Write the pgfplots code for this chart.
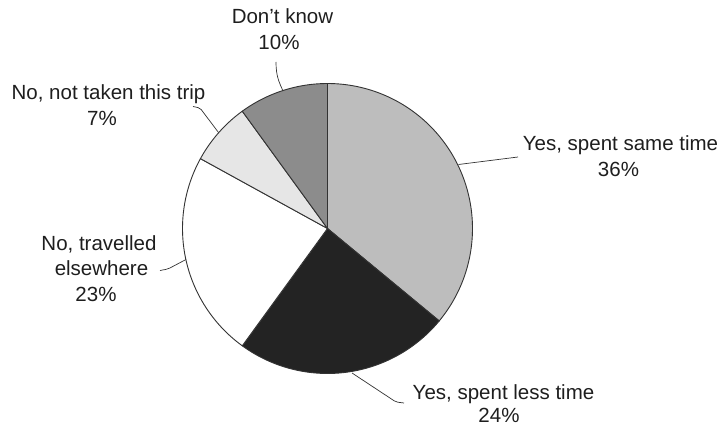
\documentclass[border=0pt]{standalone}
\usepackage{pgfplots}
\pgfplotsset{compat=1.18}
\usepackage{fontspec}
\setmainfont{Liberation Sans}
\definecolor{cSame}{HTML}{BDBDBD}
\definecolor{cLess}{HTML}{232323}
\definecolor{cElse}{HTML}{FFFFFF}
\definecolor{cNot}{HTML}{E6E6E6}
\definecolor{cDK}{HTML}{8C8C8C}
\definecolor{cEdge}{HTML}{333333}
\definecolor{cText}{HTML}{1E1E1E}
% shares in percent, clockwise from 12 o'clock
\def\pSame{36}\def\pLess{24}\def\pElse{23}\def\pNot{7}\def\pDK{10}
\pgfmathsetmacro\aA{90}
\pgfmathsetmacro\aB{\aA-3.6*\pSame}
\pgfmathsetmacro\aC{\aB-3.6*\pLess}
\pgfmathsetmacro\aD{\aC-3.6*\pElse}
\pgfmathsetmacro\aE{\aD-3.6*\pNot}
\pgfmathsetmacro\aF{\aE-3.6*\pDK}
\begin{document}
\begin{tikzpicture}
\useasboundingbox (0pt,0pt) rectangle (727pt,426pt);
\begin{axis}[at={(327.5pt,197.5pt)}, anchor=origin,
  width=290pt, height=290pt, scale only axis, hide axis, clip=false,
  xmin=-1, xmax=1, ymin=-1, ymax=1]
\addplot[fill=cSame, draw=cEdge, line width=0.9pt, samples=90, domain=\aB:\aA] ({cos(x)},{sin(x)}) -- (axis cs:0,0) -- cycle;
\addplot[fill=cLess, draw=cEdge, line width=0.9pt, samples=60, domain=\aC:\aB] ({cos(x)},{sin(x)}) -- (axis cs:0,0) -- cycle;
\addplot[fill=cElse, draw=cEdge, line width=0.9pt, samples=60, domain=\aD:\aC] ({cos(x)},{sin(x)}) -- (axis cs:0,0) -- cycle;
\addplot[fill=cNot, draw=cEdge, line width=0.9pt, samples=30, domain=\aE:\aD] ({cos(x)},{sin(x)}) -- (axis cs:0,0) -- cycle;
\addplot[fill=cDK, draw=cEdge, line width=0.9pt, samples=30, domain=\aF:\aE] ({cos(x)},{sin(x)}) -- (axis cs:0,0) -- cycle;
\end{axis}
% leader lines
\begin{scope}[draw=cEdge, line width=0.7pt]
\draw (276pt,364pt) .. controls (276pt,350pt) and (279pt,344pt) .. (283pt,335pt);
\draw[rounded corners=2pt] (193pt,319.5pt) -- (200pt,318pt) -- (218.5pt,293.5pt);
\draw[rounded corners=2pt] (160pt,155.5pt) -- (168pt,157pt) -- (186pt,166.5pt);
\draw (518pt,269pt) -- (458.5pt,261.5pt);
\draw[rounded corners=2pt] (352pt,53pt) -- (396pt,24pt) -- (404pt,23pt);
\end{scope}
% labels
\begin{scope}[every node/.style={anchor=base, inner sep=0pt, text=cText, font=\fontsize{20.5}{24}\selectfont}]
\node at (282.5pt,402pt) {Don’t know};
\node at (279pt,376pt) {10\%};
\node at (108.5pt,326pt) {No, not taken this trip};
\node at (102pt,300pt) {7\%};
\node at (99pt,176pt) {No, travelled};
\node at (101.5pt,151pt) {elsewhere};
\node at (96pt,124.5pt) {23\%};
\node at (620.5pt,275.3pt) {Yes, spent same time};
\node at (618.5pt,249.3pt) {36\%};
\node at (503.5pt,27pt) {Yes, spent less time};
\node at (499pt,4pt) {24\%};
\end{scope}
\end{tikzpicture}
\end{document}
